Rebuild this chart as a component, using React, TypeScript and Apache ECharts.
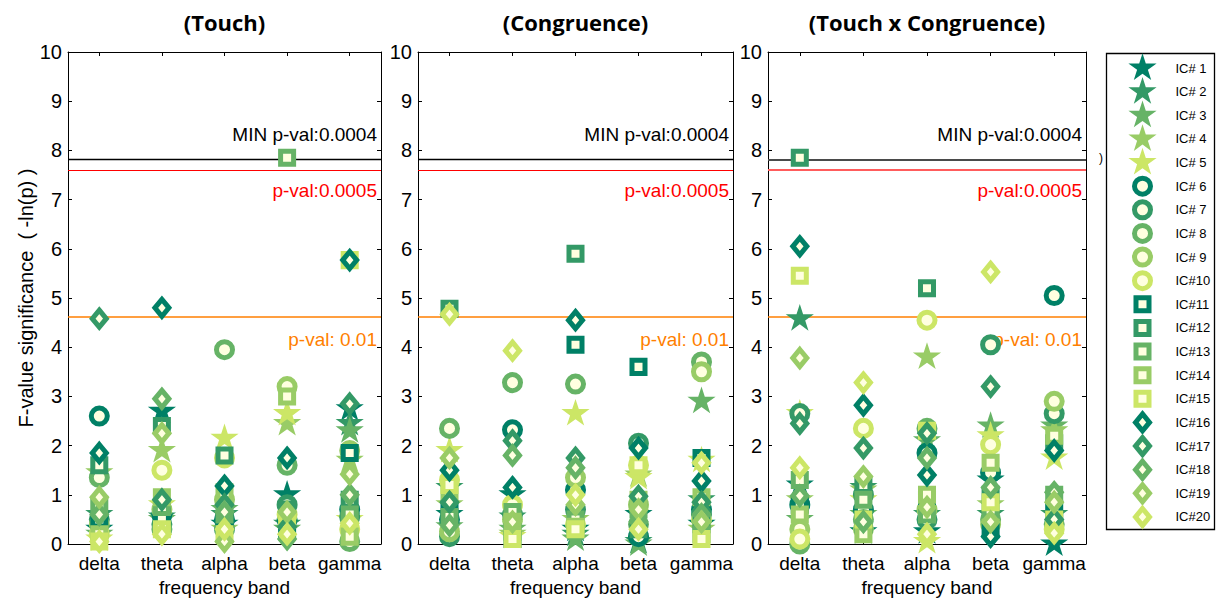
import React, { useEffect, useRef } from 'react';
import * as echarts from 'echarts';

// ---------- data ----------
const BANDS = ['delta', 'theta', 'alpha', 'beta', 'gamma'];
const IC_NAMES = [
  'IC# 1', 'IC# 2', 'IC# 3', 'IC# 4', 'IC# 5',
  'IC# 6', 'IC# 7', 'IC# 8', 'IC# 9', 'IC#10',
  'IC#11', 'IC#12', 'IC#13', 'IC#14', 'IC#15',
  'IC#16', 'IC#17', 'IC#18', 'IC#19', 'IC#20',
];
const PANEL_TITLES = ['(Touch)', '(Congruence)', '(Touch x Congruence)'];
const Y_TICKS = [0, 1, 2, 3, 4, 5, 6, 7, 8, 9, 10];
const P_THRESHOLDS = [0.0004, 0.0005, 0.01];
const THRESHOLD_LABELS = ['MIN p-val:0.0004', 'p-val:0.0005', 'p-val: 0.01'];

// rows = IC#1..IC#20, columns = delta, theta, alpha, beta, gamma  (-ln p)
const TOUCH = [
  [0.3, 2.7, 0.4, 1.0, 2.75],
  [0.6, 0.55, 0.6, 0.4, 2.45],
  [0.2, 0.5, 0.7, 0.3, 2.3],
  [1.45, 1.9, 0.3, 2.45, 1.7],
  [0.1, 0.8, 2.15, 2.65, 0.5],
  [2.6, 0.6, 0.5, 0.5, 0.7],
  [0.5, 0.4, 0.3, 0.8, 0.55],
  [1.35, 0.3, 3.95, 1.6, 0.05],
  [0.4, 0.7, 0.9, 3.2, 1.9],
  [0.2, 1.5, 1.75, 0.6, 0.3],
  [0.5, 0.55, 0.45, 0.3, 1.85],
  [1.6, 2.4, 1.8, 0.7, 0.9],
  [0.8, 0.75, 0.6, 7.85, 0.6],
  [0.2, 0.95, 1.05, 3.0, 0.15],
  [0.05, 0.3, 0.2, 0.5, 5.77],
  [1.85, 4.8, 1.18, 1.75, 5.77],
  [4.58, 0.9, 0.8, 0.35, 2.85],
  [0.6, 2.95, 0.65, 0.1, 1.0],
  [0.95, 2.25, 0.05, 0.65, 1.42],
  [0.05, 0.2, 0.3, 0.2, 0.42],
];
const CONGRUENCE = [
  [0.6, 1.0, 0.3, 0.6, 0.4],
  [1.15, 0.55, 0.2, 0.05, 0.9],
  [0.35, 0.3, 0.1, 0.0, 2.9],
  [0.8, 0.2, 0.5, 1.4, 0.3],
  [1.9, 0.15, 2.65, 1.35, 1.7],
  [0.5, 2.32, 1.1, 0.15, 0.7],
  [0.15, 0.6, 0.7, 2.05, 0.6],
  [2.35, 3.28, 3.25, 0.4, 3.7],
  [0.25, 0.5, 1.35, 0.8, 3.5],
  [1.3, 0.8, 0.4, 1.6, 0.5],
  [0.7, 0.1, 4.05, 3.6, 1.75],
  [4.78, 0.25, 5.9, 0.3, 0.4],
  [0.55, 0.65, 0.5, 0.7, 0.2],
  [1.0, 0.45, 0.35, 0.9, 0.95],
  [1.2, 0.1, 0.3, 1.6, 0.1],
  [1.5, 1.15, 4.55, 1.95, 1.28],
  [0.85, 2.1, 1.75, 0.97, 0.85],
  [0.38, 1.8, 1.55, 0.45, 0.6],
  [1.75, 0.45, 0.8, 0.7, 0.45],
  [4.67, 3.93, 1.0, 0.3, 1.65],
];
const INTERACTION = [
  [1.2, 0.25, 0.25, 1.3, 0.0],
  [4.58, 1.15, 0.6, 0.6, 0.6],
  [0.5, 0.6, 2.1, 2.4, 2.4],
  [0.9, 1.1, 3.8, 0.8, 2.3],
  [2.65, 0.9, 0.05, 2.2, 1.75],
  [0.8, 0.7, 1.85, 1.45, 5.05],
  [2.65, 1.0, 0.5, 4.05, 2.65],
  [0.0, 0.5, 2.35, 0.5, 0.4],
  [0.3, 0.3, 0.7, 0.4, 2.9],
  [0.1, 2.35, 4.55, 2.02, 0.3],
  [0.8, 0.4, 0.9, 0.3, 0.7],
  [7.85, 1.2, 5.2, 1.0, 2.05],
  [1.3, 0.9, 0.6, 0.7, 1.0],
  [0.6, 0.2, 1.0, 1.65, 2.2],
  [5.45, 0.5, 2.3, 0.85, 0.5],
  [6.05, 2.82, 1.4, 0.15, 1.9],
  [2.45, 1.95, 2.25, 3.2, 0.5],
  [0.98, 0.45, 1.75, 1.15, 1.05],
  [3.78, 1.37, 0.75, 0.45, 0.85],
  [1.55, 3.28, 0.2, 5.53, 0.22],
];
const PANEL_VALUES = [TOUCH, CONGRUENCE, INTERACTION];

// ---------- style ----------
const FONT = 'Liberation Sans, Arial, sans-serif';
const SHADES = ['#008066', '#339966', '#66B366', '#99CC66', '#CCE666'];
const HOLLOW_FILL = '#FFFFE0';
const PAD = 'M0 0 M100 100 ';
const STAR =
  'path://' + PAD +
  'M50 1 L61 35 L97 35 L68 56 L79 90 L50 69 L21 90 L32 56 L3 35 L39 35 Z';
const CIRCLE = 'path://' + PAD + 'M23.3 50 A26.7 26.7 0 1 1 76.7 50 A26.7 26.7 0 1 1 23.3 50 Z';
const SQUARE = 'path://' + PAD + 'M28.3 28.3 L71.7 28.3 L71.7 71.7 L28.3 71.7 Z';
const DIAMOND = 'path://' + PAD + 'M50 21.7 L73.3 50 L50 78.3 L26.7 50 Z';
const SYMBOLS = [STAR, CIRCLE, SQUARE, DIAMOND];

const GRID_LEFT = [68, 418, 768];
const GRID_WIDTH = [313, 315, 318];
const GRID_TOP = 52;
const GRID_HEIGHT = 494;

function buildOption() {
  const grids: any[] = [];
  const xAxes: any[] = [];
  const yAxes: any[] = [];
  const series: any[] = [];
  const titles: any[] = [];

  const axisLine = { show: true, onZero: false, lineStyle: { color: '#000', width: 1 } };
  const axisTick = { show: true, inside: true, alignWithLabel: true, length: 4, lineStyle: { color: '#000', width: 1 } };

  PANEL_TITLES.forEach((title, g) => {
    grids.push({ left: GRID_LEFT[g], top: GRID_TOP, width: GRID_WIDTH[g], height: GRID_HEIGHT, containLabel: false });
    titles.push({
      text: title,
      left: GRID_LEFT[g] + GRID_WIDTH[g] / 2,
      top: 11,
      padding: 0,
      textAlign: 'center',
      textStyle: { fontFamily: 'Open Sans', fontWeight: 'bold', fontSize: 22, color: '#000' },
    });
    xAxes.push({
      type: 'category', gridIndex: g, data: BANDS, position: 'bottom', boundaryGap: true,
      axisLine, axisTick,
      axisLabel: { color: '#000', fontSize: 19, fontFamily: FONT, margin: 10, interval: 0 },
      splitLine: { show: false },
      name: 'frequency band', nameLocation: 'middle', nameGap: 34,
      nameTextStyle: { color: '#000', fontSize: 19, fontFamily: FONT },
    });
    xAxes.push({
      type: 'category', gridIndex: g, data: BANDS, position: 'top', boundaryGap: true,
      axisLine, axisTick: { ...axisTick, interval: 0 }, axisLabel: { show: false }, splitLine: { show: false },
    });
    yAxes.push({
      type: 'value', gridIndex: g, position: 'left',
      min: Y_TICKS[0], max: Y_TICKS[Y_TICKS.length - 1], interval: 1,
      axisLine, axisTick: { ...axisTick, alignWithLabel: false },
      axisLabel: { color: '#000', fontSize: 20, fontFamily: FONT, margin: 6 },
      splitLine: { show: false },
      name: g === 0 ? 'F-value significance  ( -ln(p) )' : '',
      nameLocation: 'middle', nameGap: 30, nameRotate: 90,
      nameTextStyle: { color: '#000', fontSize: 20, fontFamily: FONT },
    });
    yAxes.push({
      type: 'value', gridIndex: g, position: 'right',
      min: Y_TICKS[0], max: Y_TICKS[Y_TICKS.length - 1], interval: 1,
      axisLine, axisTick: { ...axisTick, alignWithLabel: false },
      axisLabel: { show: false }, splitLine: { show: false },
    });

    const thick = g === 2;
    const lineColors = [thick ? '#4a4a4a' : '#000000', thick ? '#ff5c5c' : '#ff0000', '#ff7f00'];
    const lineWidths = [thick ? 2 : 1.4, thick ? 1.8 : 1.2, 1.7];
    const labelColors = ['#000000', '#ff0000', '#ff7f00'];
    const labelPos = ['insideEndTop', 'insideEndBottom', 'insideEndBottom'];
    const labelDist = [[4, 15], [4, 11], [4, 13]];

    PANEL_VALUES[g].forEach((vals, i) => {
      const shade = SHADES[i % 5];
      const isStar = i < 5;
      const s: any = {
        type: 'scatter',
        name: IC_NAMES[i],
        xAxisIndex: g * 2,
        yAxisIndex: g * 2,
        symbol: SYMBOLS[Math.floor(i / 5)],
        symbolSize: 30,
        clip: false,
        silent: true,
        z: 2,
        itemStyle: isStar
          ? { color: shade, borderColor: 'transparent', borderWidth: 5, opacity: 1 }
          : { color: HOLLOW_FILL, borderColor: shade, borderWidth: 5, opacity: 1 },
        emphasis: { disabled: true },
        data: BANDS.map((b, k) => [b, vals[k]]),
      };
      if (i === 0) {
        s.markLine = {
          silent: true,
          symbol: ['none', 'none'],
          z: 1,
          lineStyle: { type: 'solid', opacity: 1 },
          data: P_THRESHOLDS.map((p, k) => ({
            yAxis: -Math.log(p),
            lineStyle: { color: lineColors[k], width: lineWidths[k], type: 'solid', opacity: 1 },
            label: {
              show: true,
              formatter: THRESHOLD_LABELS[k],
              position: labelPos[k],
              distance: labelDist[k],
              color: labelColors[k],
              fontSize: 19,
              fontFamily: FONT,
            },
          })),
        };
      }
      series.push(s);
    });
  });

  return {
    animation: false,
    backgroundColor: '#fff',
    title: titles,
    grid: grids,
    xAxis: xAxes,
    yAxis: yAxes,
    legend: {
      orient: 'vertical',
      left: 1125,
      top: 50.5,
      padding: 0,
      itemWidth: 56,
      itemHeight: 30,
      itemGap: -11.37,
      selectedMode: false,
      data: IC_NAMES,
      itemStyle: { borderWidth: 5, opacity: 1 },
      textStyle: { color: '#000', fontSize: 13, fontFamily: FONT },
    },
    graphic: [
      {
        type: 'rect',
        shape: { x: 1106.5, y: 53.5, width: 108, height: 476 },
        style: { fill: 'none', stroke: '#000', lineWidth: 1.3 },
        silent: true,
      },
      {
        type: 'text',
        x: 1099,
        y: 152,
        style: { text: ')', fontSize: 12, fill: '#000', fontFamily: FONT },
        silent: true,
      },
    ],
    series,
  };
}

export default function App() {
  const ref = useRef<HTMLDivElement>(null);
  useEffect(() => {
    if (!ref.current) return;
    const chart = echarts.init(ref.current, undefined, { renderer: 'svg' });
    chart.setOption(buildOption() as any);
    return () => chart.dispose();
  }, []);
  return (
    <div
      ref={ref}
      style={{ position: 'fixed', left: 0, top: 0, width: 1218, height: 602, background: '#fff' }}
    />
  );
}
